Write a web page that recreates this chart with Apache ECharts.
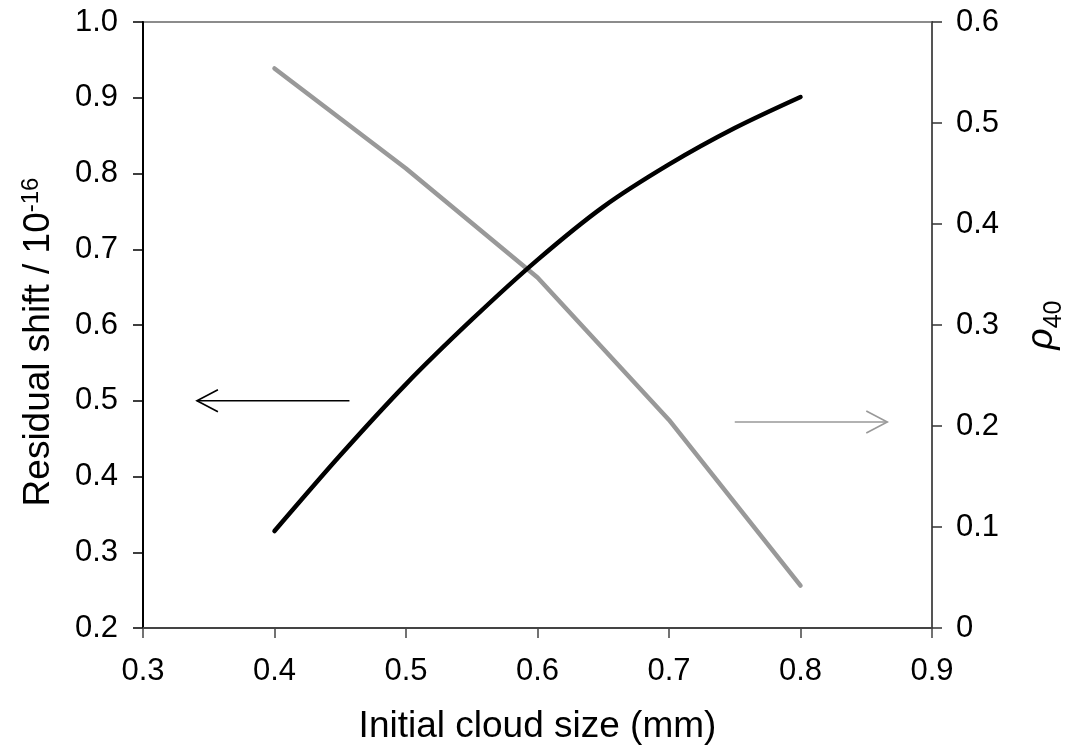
<!DOCTYPE html>
<html>
<head>
<meta charset="utf-8">
<script src="https://cdn.jsdelivr.net/npm/echarts@6/dist/echarts.min.js"></script>
<style>
html,body{margin:0;padding:0;background:#fff;}
#chart{width:1069px;height:755px;}
</style>
</head>
<body>
<div id="chart"></div>
<script>
// ---- data ----
const xTicks = [0.3, 0.4, 0.5, 0.6, 0.7, 0.8, 0.9];
const residualX = [0.4, 0.45, 0.5, 0.55, 0.6, 0.65, 0.7, 0.75, 0.8];
const residualShift = [0.328, 0.428, 0.522, 0.607, 0.686, 0.756, 0.812, 0.860, 0.901];
const rhoX = [0.4, 0.5, 0.6, 0.7, 0.8];
const rho40 = [0.554, 0.455, 0.347, 0.206, 0.042];
// arrows: [tailX, tailY, headX, headY]
const arrowLeft = [0.457, 0.5, 0.341, 0.5];
const arrowRight = [0.750, 0.204, 0.866, 0.204];

const FONT = 'Liberation Sans, Arial, sans-serif';
const TICK_FS = 31;
const TITLE_FS = 37;

function arrowRender(color, width) {
  return function (params, api) {
    const t = api.coord([api.value(0), api.value(1)]);
    const h = api.coord([api.value(2), api.value(3)]);
    const ang = Math.atan2(h[1] - t[1], h[0] - t[0]);
    const L = 21, W = 11;
    const bx = h[0] - L * Math.cos(ang), by = h[1] - L * Math.sin(ang);
    const px = -Math.sin(ang) * W, py = Math.cos(ang) * W;
    return {
      type: 'group',
      children: [
        { type: 'line', shape: { x1: t[0], y1: t[1], x2: h[0], y2: h[1] },
          style: { stroke: color, lineWidth: width } },
        { type: 'polyline', shape: { points: [[bx + px, by + py], h, [bx - px, by - py]] },
          style: { stroke: color, lineWidth: width, fill: null } }
      ]
    };
  };
}

const chart = echarts.init(document.getElementById('chart'), null, { renderer: 'canvas' });
chart.setOption({
  animation: false,
  backgroundColor: '#fff',
  textStyle: { fontFamily: FONT },
  grid: { left: 143, right: 137, top: 22, bottom: 127, show: true, borderColor: '#8c8c8c', borderWidth: 2,
          containLabel: false, outerBoundsMode: 'none' },
  xAxis: {
    type: 'value', min: 0.3, max: 0.9, interval: 0.1,
    name: 'Initial cloud size (mm)', nameLocation: 'middle', nameGap: 80,
    nameTextStyle: { fontSize: TITLE_FS, color: '#000', fontFamily: FONT },
    axisLine: { lineStyle: { color: '#444', width: 2 } },
    axisTick: { inside: false, length: 10, lineStyle: { color: '#444', width: 1.5 } },
    axisLabel: { fontSize: TICK_FS, color: '#000', margin: 28, fontFamily: FONT,
      formatter: v => v.toFixed(1) },
    splitLine: { show: false }
  },
  yAxis: [{
    type: 'value', min: 0.2, max: 1.0, interval: 0.1, position: 'left',
    name: '{a|Residual shift / 10}{b|-16}', nameLocation: 'middle', nameGap: 86, nameRotate: 90,
    nameTextStyle: { color: '#000', fontFamily: FONT,
      rich: { a: { fontSize: TITLE_FS, fontFamily: FONT, color: '#000', lineHeight: 44, verticalAlign: 'bottom' },
              b: { fontSize: 24, fontFamily: FONT, color: '#000', lineHeight: 24, verticalAlign: 'top',
                   padding: [6, 34, 0, 0] } } },
    axisLine: { show: true, lineStyle: { color: '#000', width: 2 } },
    axisTick: { show: true, inside: false, length: 10, lineStyle: { color: '#000', width: 1.5 } },
    axisLabel: { fontSize: TICK_FS, color: '#000', margin: 25, fontFamily: FONT,
      formatter: v => v.toFixed(1) },
    splitLine: { show: false }
  }, {
    type: 'value', min: 0, max: 0.6, interval: 0.1, position: 'right',
    name: '{r|ρ}{s|40}', nameLocation: 'middle', nameGap: 91, nameRotate: 90,
    nameTextStyle: { color: '#000', fontFamily: FONT,
      rich: { r: { fontSize: 37, fontStyle: 'italic', fontFamily: FONT, color: '#000', lineHeight: 44, verticalAlign: 'top' },
              s: { fontSize: 25, fontFamily: FONT, color: '#000', lineHeight: 25, verticalAlign: 'bottom' } } },
    axisLine: { show: true, lineStyle: { color: '#555', width: 2 } },
    axisTick: { show: true, inside: false, length: 10, lineStyle: { color: '#333', width: 1.5 } },
    axisLabel: { fontSize: TICK_FS, color: '#000', margin: 24, fontFamily: FONT,
      formatter: v => (v === 0 ? '0' : v.toFixed(1)) },
    splitLine: { show: false }
  }],
  series: [{
    name: 'Residual shift', type: 'line', yAxisIndex: 0, smooth: 0.3, symbol: 'none',
    data: residualX.map((x, i) => [x, residualShift[i]]),
    lineStyle: { color: '#000', width: 4.5, cap: 'round' }, z: 3
  }, {
    name: 'rho40', type: 'line', yAxisIndex: 1, smooth: false, symbol: 'none',
    data: rhoX.map((x, i) => [x, rho40[i]]),
    lineStyle: { color: '#999', width: 4.5, cap: 'round' }, z: 2
  }, {
    type: 'custom', yAxisIndex: 0, renderItem: arrowRender('#000', 1.6),
    encode: { x: [0, 2], y: [1, 3] }, data: [arrowLeft], silent: true
  }, {
    type: 'custom', yAxisIndex: 1, renderItem: arrowRender('#999', 1.6),
    encode: { x: [0, 2], y: [1, 3] }, data: [arrowRight], silent: true
  }]
});
</script>
</body>
</html>
